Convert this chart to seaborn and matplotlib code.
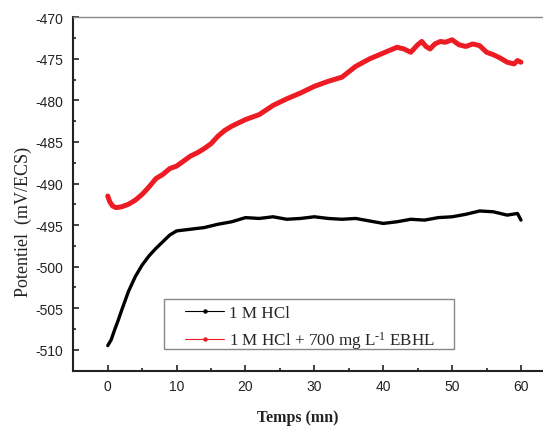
import matplotlib
matplotlib.use("Agg")
import matplotlib.pyplot as plt
from matplotlib.lines import Line2D
from matplotlib.patches import Rectangle
from matplotlib.ticker import MultipleLocator
import seaborn as sns
import pandas as pd

# ---- data ----
t_hcl = [0, 0.5, 1, 1.5, 2, 3, 4, 5, 6, 7, 8, 9, 10, 11, 12, 14, 16, 18, 20,
         22, 24, 26, 28, 30, 32, 34, 36, 38, 40, 42, 44, 46, 48, 50, 52, 54,
         56, 58, 59.5, 60]
e_hcl = [-509.5, -508.8, -507.6, -506.5, -505.3, -503.0, -501.2, -499.8,
         -498.7, -497.8, -497.0, -496.2, -495.7, -495.6, -495.5, -495.3,
         -494.9, -494.6, -494.1, -494.2, -494.0, -494.3, -494.2, -494.0,
         -494.2, -494.3, -494.2, -494.5, -494.8, -494.6, -494.3, -494.4,
         -494.1, -494.0, -493.7, -493.3, -493.4, -493.8, -493.6, -494.4]

t_inh = [0, 0.3, 0.7, 1.2, 2, 3, 4, 5, 6, 7, 8, 9, 10, 11, 12, 13, 14, 15,
         16, 17, 18, 19, 20, 22, 24, 26, 28, 30, 32, 34, 36, 38, 40, 42, 43,
         44, 45, 45.6, 46.2, 46.8, 47.5, 48.3, 49, 50, 51, 52, 53, 54, 55,
         56, 57, 58, 59, 59.5, 60]
e_inh = [-491.5, -492.2, -492.7, -492.9, -492.8, -492.5, -492.0, -491.3,
         -490.4, -489.4, -488.9, -488.2, -487.9, -487.3, -486.7, -486.3,
         -485.8, -485.2, -484.3, -483.6, -483.1, -482.7, -482.3, -481.7,
         -480.6, -479.8, -479.1, -478.3, -477.7, -477.2, -475.9, -475.0,
         -474.3, -473.6, -473.8, -474.2, -473.3, -472.9, -473.5, -473.8,
         -473.2, -472.9, -473.0, -472.7, -473.3, -473.5, -473.2, -473.4,
         -474.2, -474.5, -474.9, -475.4, -475.6, -475.2, -475.4]

labels = ["1 M HCl", "1 M HCl + 700 mg L$^{\\text{-}1}$ EBHL"]
colors = ["#000000", "#ED1C24"]
x_ticks_major = 10
y_ticks_major = 5

df = pd.concat([
    pd.DataFrame({"t": t_hcl, "E": e_hcl, "serie": labels[0]}),
    pd.DataFrame({"t": t_inh, "E": e_inh, "serie": labels[1]}),
])

sns.set_style("ticks")
plt.rcParams["font.family"] = ["Liberation Sans", "DejaVu Sans"]
plt.rcParams["axes.unicode_minus"] = False
plt.rcParams["mathtext.fontset"] = "custom"
plt.rcParams["mathtext.rm"] = "Liberation Serif"
plt.rcParams["mathtext.default"] = "regular"

fig = plt.figure(figsize=(5.43, 4.27), dpi=100)
ax = fig.add_axes([0.135, 0.1288, 0.865, 0.957 - 0.1288])

for lab, col, lw in zip(labels, colors, [2.4, 3.6]):
    sub = df[df["serie"] == lab]
    sns.lineplot(data=sub, x="t", y="E", color=col, lw=lw, ax=ax,
                 legend=False, estimator=None, sort=False)

ax.set_xlim(-5, 63.2)
ax.set_ylim(-512.56, -470)
ax.xaxis.set_major_locator(MultipleLocator(x_ticks_major))
ax.xaxis.set_minor_locator(MultipleLocator(x_ticks_major / 2))
ax.yaxis.set_major_locator(MultipleLocator(y_ticks_major))
ax.yaxis.set_minor_locator(MultipleLocator(y_ticks_major / 2))
ax.tick_params(which="both", direction="in", width=1.2, colors="#222222",
               labelcolor="#222222")
ax.tick_params(which="major", length=4.3, labelsize=10)
ax.tick_params(which="minor", length=2.2)
ax.tick_params(axis="x", pad=6)
ax.tick_params(axis="y", pad=7)
ax.tick_params(top=False, right=False)

for s in ["left", "bottom"]:
    ax.spines[s].set_linewidth(1.5)
    ax.spines[s].set_color("#222222")
ax.spines["top"].set_linewidth(1.0)
ax.spines["top"].set_color("#888888")
ax.spines["right"].set_visible(False)

ax.set_xlabel("Temps (mn)", fontfamily="Liberation Serif", fontsize=11.5,
              fontweight="bold", color="#222222")
ax.set_ylabel("Potentiel  (mV/ECS)", fontfamily="Liberation Serif",
              fontsize=13, color="#222222")
ax.xaxis.set_label_coords(0.478, -0.107)
ax.yaxis.set_label_coords(-0.087, 0.423)

# legend box (frame drawn separately to get the wide side margins)
ax.add_patch(Rectangle((0.193, 0.0622), 0.617, 0.1414, transform=ax.transAxes,
                       facecolor="white", edgecolor="#888888", lw=1.0,
                       zorder=4))
handles = [Line2D([], [], color=c, lw=0.8, marker="o", markersize=2.2)
           for c in colors]
leg = ax.legend(handles, labels, loc="lower left",
                bbox_to_anchor=(0.2378, 0.057), borderaxespad=0,
                prop={"family": "Liberation Serif", "size": 12.3},
                frameon=False, handlelength=2.3, handletextpad=0.25,
                borderpad=0, labelspacing=0.45)
leg.set_zorder(5)

fig.savefig("out.png", dpi=100)
